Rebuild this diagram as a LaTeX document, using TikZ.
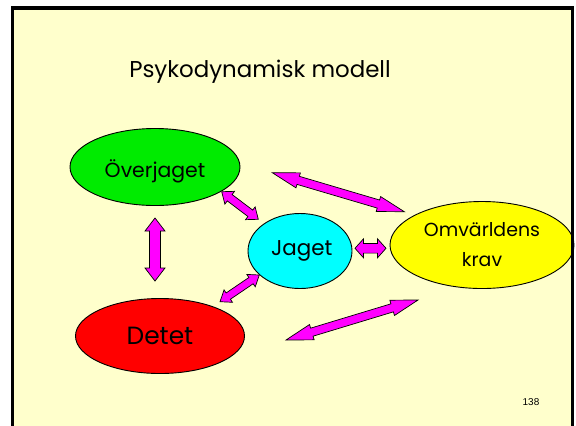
\documentclass[tikz,border=0pt]{standalone}
\usepackage{fontspec}
\setmainfont{Poppins}
\newfontfamily\numfont{Liberation Sans}
\usetikzlibrary{shapes.geometric,calc}

\definecolor{paper}{RGB}{255,255,204}
\definecolor{superego}{RGB}{0,235,0}
\definecolor{ego}{RGB}{0,255,255}
\definecolor{world}{RGB}{255,255,0}
\definecolor{id}{RGB}{255,0,0}
\definecolor{arrowfill}{RGB}{255,0,255}

\tikzset{
  bubble/.style={ellipse, draw=black, line width=0.9bp, inner sep=0pt,
    font=\fontsize{19}{30}\selectfont, align=center},
  blockarrow/.style={fill=arrowfill, draw=black, line width=0.7bp, line join=miter},
}

% Double-headed block arrow between two tips:
% #1,#2 tips; #3 head length; #4 head half-width; #5 shaft half-width
\newcommand\dblblock[5]{%
  \draw[blockarrow] (#1)
    -- ($(#1)!#3!(#2)!#4!90:(#2)$)
    -- ($(#1)!#3!(#2)!#5!90:(#2)$)
    -- ($(#2)!#3!(#1)!#5!-90:(#1)$)
    -- ($(#2)!#3!(#1)!#4!-90:(#1)$)
    -- (#2)
    -- ($(#2)!#3!(#1)!#4!90:(#1)$)
    -- ($(#2)!#3!(#1)!#5!90:(#1)$)
    -- ($(#1)!#3!(#2)!#5!-90:(#2)$)
    -- ($(#1)!#3!(#2)!#4!-90:(#2)$)
    -- cycle;}

\begin{document}
\begin{tikzpicture}[x=1bp, y=-1bp]
  \useasboundingbox (0,0) rectangle (576,425);
  \clip (0,0) rectangle (576,425);
  \fill[white] (0,0) rectangle (576,425);
  \fill[paper] (12.5,8) rectangle (572.5,440);

  % title
  \node[font=\fontsize{23}{28}\selectfont] (title) at (260,72) {Psykodynamisk modell};

  % the four parts of the model
  \node[bubble, fill=superego, minimum width=170bp, minimum height=77bp,
        font=\fontsize{20.5}{24}\selectfont] (over) at (155,167)
        {\raisebox{-4bp}[\height][\depth]{Överjaget}};
  \node[bubble, fill=ego, minimum width=104bp, minimum height=75bp,
        font=\fontsize{21.5}{24}\selectfont] (jag) at (300,251) {\,Jaget};
  \node[bubble, fill=world, minimum width=184bp, minimum height=87bp] (omv) at (482,245) {Omvärldens\\krav};
  \node[bubble, fill=id, minimum width=169bp, minimum height=75bp,
        font=\fontsize{25}{28}\selectfont] (det) at (160,336) {Detet};

  % arrow tips
  \coordinate (a1) at (155,218);   \coordinate (b1) at (155,281);
  \coordinate (a2) at (221.7,191.7); \coordinate (b2) at (258.3,219.3);
  \coordinate (a3) at (272.3,172.7); \coordinate (b3) at (404.3,211.7);
  \coordinate (a4) at (355,248.3); \coordinate (b4) at (386,248.3);
  \coordinate (a5) at (220,301.7); \coordinate (b5) at (259.3,275);
  \coordinate (a6) at (286,340);   \coordinate (b6) at (418,300);

  \dblblock{a1}{b1}{13bp}{10bp}{5.5bp}
  \dblblock{a2}{b2}{10bp}{8bp}{4bp}
  \dblblock{a3}{b3}{27bp}{7.8bp}{4.2bp}
  \dblblock{a4}{b4}{8.5bp}{9.5bp}{4.8bp}
  \dblblock{a5}{b5}{10bp}{7.5bp}{3.8bp}
  \dblblock{a6}{b6}{27bp}{8bp}{4.2bp}

  % slide number
  \node[font=\numfont\fontsize{10}{12}\selectfont] (num) at (531,402) {138};

  % frame
  \draw[line width=3.5bp, line join=miter] (12.5,440) -- (12.5,8) -- (572.5,8) -- (572.5,440);
\end{tikzpicture}
\end{document}
